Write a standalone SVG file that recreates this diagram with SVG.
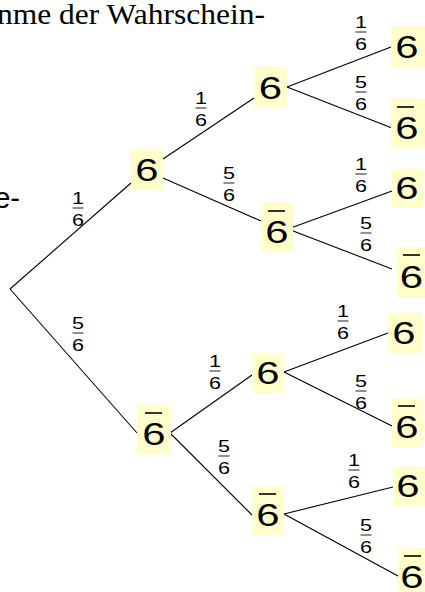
<svg xmlns="http://www.w3.org/2000/svg" width="425" height="592" viewBox="0 0 425 592">
<style>
.bg{fill:#ffffcc;stroke:none}
.n{font-family:"Liberation Sans",Arial,sans-serif;font-size:31px;fill:#000;text-anchor:middle}
.ov{stroke:#000;stroke-width:1.6}
.e{stroke:#000;stroke-width:1.1;fill:none}
.f{font-family:"Liberation Sans",Arial,sans-serif;font-size:16px;fill:#000;text-anchor:middle}
.bar{stroke:#333;stroke-width:1.1}
.t{font-family:"Liberation Serif","Times New Roman",serif;font-size:30px;fill:#000}
.s{font-family:"Liberation Sans",Arial,sans-serif;font-size:29px;fill:#000;text-anchor:end}
</style>
<rect width="425" height="592" fill="#fff"/>
<text class="t" x="-3" y="24" textLength="268" lengthAdjust="spacingAndGlyphs">nme der Wahrschein-</text>
<text class="s" x="20" y="208">e-</text>

<g id="connectors">
<line class="e" x1="10" y1="289" x2="131" y2="183"/>
<line class="e" x1="10" y1="289" x2="137" y2="433"/>
<line class="e" x1="163" y1="159" x2="254" y2="98"/>
<line class="e" x1="163" y1="178" x2="261" y2="221"/>
<line class="e" x1="287" y1="87" x2="391" y2="47"/>
<line class="e" x1="287" y1="87" x2="392" y2="128"/>
<line class="e" x1="288" y1="229" x2="392" y2="191"/>
<line class="e" x1="288" y1="229" x2="392" y2="269"/>
<line class="e" x1="170" y1="433" x2="252" y2="375"/>
<line class="e" x1="170" y1="433" x2="252" y2="515"/>
<line class="e" x1="284" y1="372" x2="388" y2="333"/>
<line class="e" x1="284" y1="372" x2="392" y2="426"/>
<line class="e" x1="284" y1="514" x2="393" y2="487"/>
<line class="e" x1="284" y1="514" x2="398" y2="576"/>
</g>

<g id="labels">
<g transform="translate(78 208)"><line class="bar" x1="-5.5" y1="0" x2="5.5" y2="0"/><text class="f" transform="translate(0 -4) scale(1.35 1)">1</text><text class="f" transform="translate(0 18) scale(1.35 1)">6</text></g>
<g transform="translate(78 333)"><line class="bar" x1="-5.5" y1="0" x2="5.5" y2="0"/><text class="f" transform="translate(0 -4) scale(1.35 1)">5</text><text class="f" transform="translate(0 18) scale(1.35 1)">6</text></g>
<g transform="translate(201 108)"><line class="bar" x1="-5.5" y1="0" x2="5.5" y2="0"/><text class="f" transform="translate(0 -4) scale(1.35 1)">1</text><text class="f" transform="translate(0 18) scale(1.35 1)">6</text></g>
<g transform="translate(229 183)"><line class="bar" x1="-5.5" y1="0" x2="5.5" y2="0"/><text class="f" transform="translate(0 -4) scale(1.35 1)">5</text><text class="f" transform="translate(0 18) scale(1.35 1)">6</text></g>
<g transform="translate(361 32)"><line class="bar" x1="-5.5" y1="0" x2="5.5" y2="0"/><text class="f" transform="translate(0 -4) scale(1.35 1)">1</text><text class="f" transform="translate(0 18) scale(1.35 1)">6</text></g>
<g transform="translate(361 92)"><line class="bar" x1="-5.5" y1="0" x2="5.5" y2="0"/><text class="f" transform="translate(0 -4) scale(1.35 1)">5</text><text class="f" transform="translate(0 18) scale(1.35 1)">6</text></g>
<g transform="translate(361 174)"><line class="bar" x1="-5.5" y1="0" x2="5.5" y2="0"/><text class="f" transform="translate(0 -4) scale(1.35 1)">1</text><text class="f" transform="translate(0 18) scale(1.35 1)">6</text></g>
<g transform="translate(366 233)"><line class="bar" x1="-5.5" y1="0" x2="5.5" y2="0"/><text class="f" transform="translate(0 -4) scale(1.35 1)">5</text><text class="f" transform="translate(0 18) scale(1.35 1)">6</text></g>
<g transform="translate(215 371)"><line class="bar" x1="-5.5" y1="0" x2="5.5" y2="0"/><text class="f" transform="translate(0 -4) scale(1.35 1)">1</text><text class="f" transform="translate(0 18) scale(1.35 1)">6</text></g>
<g transform="translate(224 456)"><line class="bar" x1="-5.5" y1="0" x2="5.5" y2="0"/><text class="f" transform="translate(0 -4) scale(1.35 1)">5</text><text class="f" transform="translate(0 18) scale(1.35 1)">6</text></g>
<g transform="translate(343 321)"><line class="bar" x1="-5.5" y1="0" x2="5.5" y2="0"/><text class="f" transform="translate(0 -4) scale(1.35 1)">1</text><text class="f" transform="translate(0 18) scale(1.35 1)">6</text></g>
<g transform="translate(361 391)"><line class="bar" x1="-5.5" y1="0" x2="5.5" y2="0"/><text class="f" transform="translate(0 -4) scale(1.35 1)">5</text><text class="f" transform="translate(0 18) scale(1.35 1)">6</text></g>
<g transform="translate(354 470)"><line class="bar" x1="-5.5" y1="0" x2="5.5" y2="0"/><text class="f" transform="translate(0 -4) scale(1.35 1)">1</text><text class="f" transform="translate(0 18) scale(1.35 1)">6</text></g>
<g transform="translate(366 535)"><line class="bar" x1="-5.5" y1="0" x2="5.5" y2="0"/><text class="f" transform="translate(0 -4) scale(1.35 1)">5</text><text class="f" transform="translate(0 18) scale(1.35 1)">6</text></g>
</g>

<g id="n1"><rect class="bg" x="131" y="149" width="32" height="41"/><text class="n" transform="translate(147 181) scale(1.35 1)">6</text></g>
<g id="n2"><rect class="bg" x="137" y="405" width="34" height="49"/><line class="ov" x1="145" y1="413" x2="162" y2="413"/><text class="n" transform="translate(154 445) scale(1.35 1)">6</text></g>
<g id="nA"><rect class="bg" x="254" y="67" width="33" height="41"/><text class="n" transform="translate(270.5 99) scale(1.35 1)">6</text></g>
<g id="nB"><rect class="bg" x="261" y="203" width="32" height="49"/><line class="ov" x1="268" y1="211" x2="285" y2="211"/><text class="n" transform="translate(277 243) scale(1.35 1)">6</text></g>
<g id="nC"><rect class="bg" x="252" y="353" width="32" height="40"/><text class="n" transform="translate(268 384) scale(1.35 1)">6</text></g>
<g id="nD"><rect class="bg" x="252" y="486" width="32" height="49"/><line class="ov" x1="259" y1="494" x2="276" y2="494"/><text class="n" transform="translate(268 526) scale(1.35 1)">6</text></g>
<g id="nA1"><rect class="bg" x="391" y="27" width="34" height="40"/><text class="n" transform="translate(407 58) scale(1.35 1)">6</text></g>
<g id="nA2"><rect class="bg" x="391" y="99" width="34" height="49"/><line class="ov" x1="397" y1="107" x2="414" y2="107"/><text class="n" transform="translate(407 139) scale(1.35 1)">6</text></g>
<g id="nB1"><rect class="bg" x="392" y="169" width="32" height="39"/><text class="n" transform="translate(407 199) scale(1.35 1)">6</text></g>
<g id="nB2"><rect class="bg" x="397" y="247" width="28" height="50"/><line class="ov" x1="403" y1="255" x2="420" y2="255"/><text class="n" transform="translate(411.5 288) scale(1.35 1)">6</text></g>
<g id="nC1"><rect class="bg" x="388" y="313" width="34" height="40"/><text class="n" transform="translate(404 344) scale(1.35 1)">6</text></g>
<g id="nC2"><rect class="bg" x="392" y="398" width="31" height="49"/><line class="ov" x1="398" y1="406" x2="415" y2="406"/><text class="n" transform="translate(407 438) scale(1.35 1)">6</text></g>
<g id="nD1"><rect class="bg" x="393" y="467" width="32" height="39"/><text class="n" transform="translate(408 497) scale(1.35 1)">6</text></g>
<g id="nD2"><rect class="bg" x="398" y="548" width="27" height="48"/><line class="ov" x1="404" y1="556" x2="421" y2="556"/><text class="n" transform="translate(412 588) scale(1.35 1)">6</text></g>
</svg>
